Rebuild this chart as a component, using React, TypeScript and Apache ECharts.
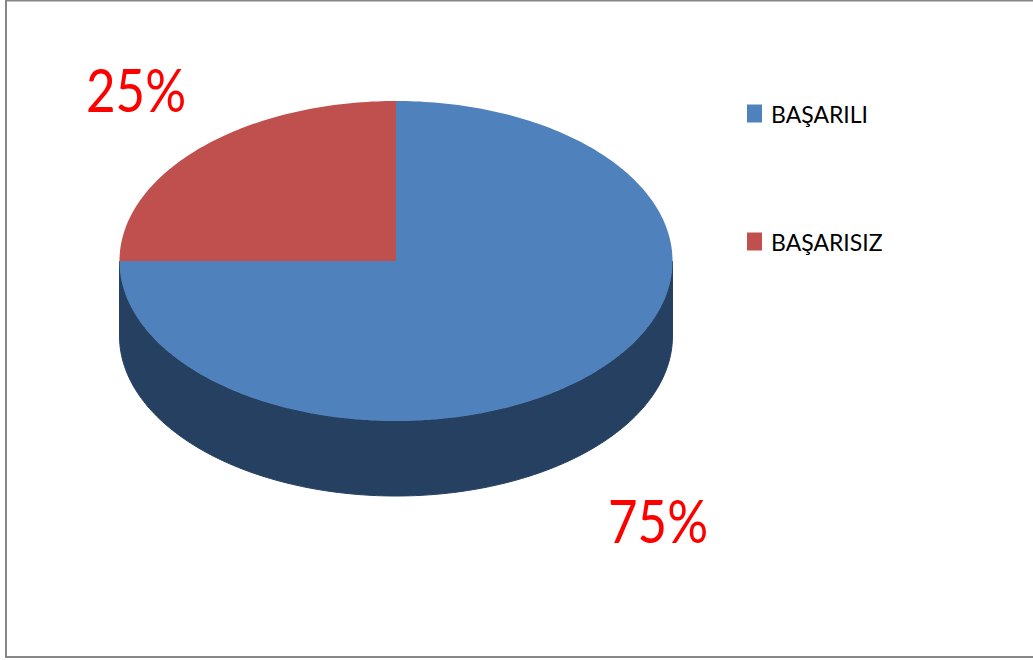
import React, { useEffect, useRef } from "react";
import * as echarts from "echarts";

const categories = ["BAŞARILI", "BAŞARISIZ"];
const values = [75, 25];
const topColors = ["#4F81BD", "#C0504D"];
const sideColors = ["#264061", "#77302E"];
const labelPositions = [
  [658, 520],
  [136, 89],
];

const CX = 396;
const CY = 261;
const RX = 276.5;
const RY = 160;
const DEPTH = 75;
const STEP = Math.PI / 180;

const pt = (t: number, dy = 0): number[] => [
  CX + RX * Math.sin(t),
  CY - RY * Math.cos(t) + dy,
];

function arcPoints(a: number, b: number, dy = 0): number[][] {
  const out: number[][] = [];
  const n = Math.max(1, Math.ceil((b - a) / STEP));
  for (let i = 0; i <= n; i++) out.push(pt(a + ((b - a) * i) / n, dy));
  return out;
}

const total = values.reduce((s, v) => s + v, 0);

function makeSeries(index: number) {
  const before = values.slice(0, index).reduce((s, v) => s + v, 0);
  const start = (before / total) * Math.PI * 2;
  const end = ((before + values[index]) / total) * Math.PI * 2;
  return {
    type: "custom",
    name: categories[index],
    coordinateSystem: "none",
    silent: true,
    itemStyle: { color: topColors[index] },
    data: [values[index]],
    renderItem: () => {
      const children: any[] = [];
      const fa = Math.max(start, Math.PI / 2);
      const fb = Math.min(end, (Math.PI * 3) / 2);
      if (fb > fa) {
        children.push({
          type: "polygon",
          z2: 1,
          shape: {
            points: [...arcPoints(fa, fb), ...arcPoints(fa, fb, DEPTH).reverse()],
          },
          style: { fill: sideColors[index], stroke: sideColors[index], lineWidth: 1 },
        });
      }
      children.push({
        type: "polygon",
        z2: 2,
        shape: { points: [[CX, CY], ...arcPoints(start, end)] },
        style: { fill: topColors[index] },
      });
      const [lx, ly] = labelPositions[index];
      children.push({
        type: "text",
        z2: 3,
        x: lx,
        y: ly,
        scaleY: 1.16,
        style: {
          text: `${Math.round((values[index] / total) * 100)}%`,
          fill: "#FF0000",
          font: '51px Lato, "Noto Sans", sans-serif',
          align: "center",
          verticalAlign: "middle",
        },
      });
      return { type: "group", children };
    },
  };
}

export default function App() {
  const ref = useRef<HTMLDivElement>(null);
  useEffect(() => {
    const chart = echarts.init(ref.current!, null, { renderer: "svg" });
    chart.setOption({
      animation: false,
      backgroundColor: "#FFFFFF",
      legend: {
        data: categories,
        orient: "vertical",
        left: 742,
        top: 97,
        icon: "rect",
        itemWidth: 15,
        itemHeight: 18,
        itemGap: 105,
        selectedMode: false,
        textStyle: {
          color: "#000000",
          fontFamily: 'Lato, "Noto Sans", sans-serif',
          fontSize: 23,
          padding: [0, 0, 0, 4],
        },
      },
      graphic: [
        {
          type: "rect",
          silent: true,
          z: -1,
          shape: { x: 6, y: 0.5, width: 1100, height: 656.5 },
          style: { fill: "none", stroke: "#868686", lineWidth: 2 },
        },
      ],
      series: categories.map((_, i) => makeSeries(i)),
    });
    return () => chart.dispose();
  }, []);
  return (
    <div
      ref={ref}
      style={{ position: "absolute", left: 0, top: 0, width: 1033, height: 660 }}
    />
  );
}
